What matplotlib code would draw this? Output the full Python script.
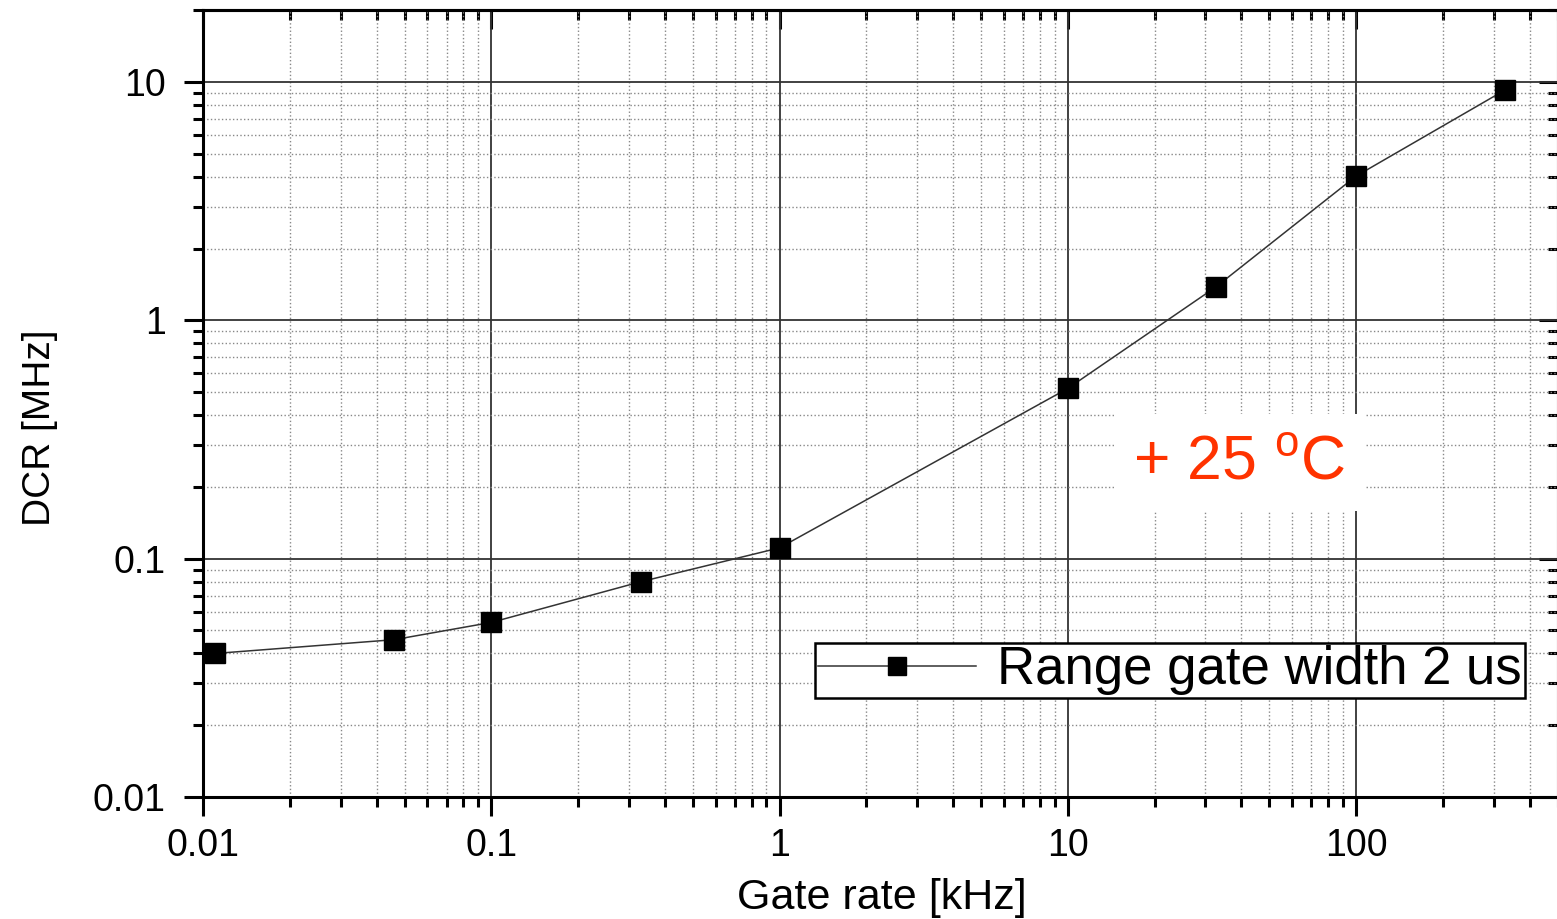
'''
DCR vs gate rate, log-log
'''

import numpy as np
import matplotlib
matplotlib.use('Agg')
import matplotlib.pyplot as plt
from matplotlib.ticker import LogLocator, FixedLocator, NullFormatter

plt.rcParams['font.family'] = ['Liberation Sans', 'DejaVu Sans']

# data
gate_rate = [0.011, 0.046, 0.1, 0.33, 1.0, 10.0, 32.6, 100.0, 328.0]  # kHz
dcr = [0.040, 0.0457, 0.054, 0.080, 0.111, 0.518, 1.38, 4.03, 9.25]  # MHz
series_label = 'Range gate width 2 us'
x_ticks = [0.01, 0.1, 1, 10, 100]
x_ticklabels = ['0.01', '0.1', '1', '10', '100']
y_ticks = [0.01, 0.1, 1, 10]
y_ticklabels = ['0.01', '0.1', '1', '10']

fig = plt.figure(figsize=(15.57, 9.19), dpi=100)
ax = fig.add_axes([0.1304, 0.1328, 0.8700, 0.856])

ax.plot(gate_rate, dcr, '-', color='#333333', lw=1.1, marker='s', ms=15,
        mfc='black', mec='black', label=series_label, zorder=5)

ax.set_xscale('log')
ax.set_yscale('log')
ax.set_xlim(0.01, 500)
ax.set_ylim(0.01, 20)

minor = np.arange(2, 10)
ax.xaxis.set_major_locator(FixedLocator(x_ticks))
ax.set_xticklabels(x_ticklabels)
ax.yaxis.set_major_locator(FixedLocator(y_ticks))
ax.set_yticklabels(y_ticklabels)
ax.xaxis.set_minor_locator(LogLocator(base=10, subs=minor, numticks=20))
ax.yaxis.set_minor_locator(LogLocator(base=10, subs=minor, numticks=20))
ax.xaxis.set_minor_formatter(NullFormatter())
ax.yaxis.set_minor_formatter(NullFormatter())

# grid: solid majors, dotted minors
ax.grid(which='major', color='#333333', linestyle='-', lw=1.3)
ax.grid(which='minor', color='#888888', linestyle=':', lw=1.0)
ax.set_axisbelow(True)

for s in ax.spines.values():
    s.set_linewidth(2.2)

ax.tick_params(which='both', bottom=True, left=True, top=False, right=False,
               direction='out', width=2.2, labelsize=27, colors='black')
ax.tick_params(which='major', length=14, pad=8)
ax.tick_params(axis='y', which='major', pad=13)
ax.tick_params(which='minor', length=7)

# mirrored ticks on top/right pointing in
ax_top = ax.secondary_xaxis('top')
ax_top.set_xticks(x_ticks)
ax_top.xaxis.set_minor_locator(LogLocator(base=10, subs=minor, numticks=20))
ax_top.xaxis.set_minor_formatter(NullFormatter())
ax_top.tick_params(which='both', direction='in', width=2.2, labeltop=False)
ax_top.tick_params(which='major', length=14)
ax_top.tick_params(which='minor', length=7)
ax_top.spines['top'].set_linewidth(2.2)

ax_right = ax.secondary_yaxis('right')
ax_right.set_yticks(y_ticks)
ax_right.yaxis.set_minor_locator(LogLocator(base=10, subs=minor, numticks=20))
ax_right.yaxis.set_minor_formatter(NullFormatter())
ax_right.tick_params(which='both', direction='in', width=2.2, labelright=False)
ax_right.tick_params(which='major', length=14)
ax_right.tick_params(which='minor', length=7)

ax.set_xlabel('Gate rate [kHz]', fontsize=31)
ax.xaxis.set_label_coords(0.501, -0.128)
ax.xaxis.label.set_va('center')
ax.set_ylabel('DCR [MHz]', fontsize=28)
ax.yaxis.set_label_coords(-0.1206, 0.469)
ax.yaxis.label.set_va('center')

leg = ax.legend(loc='lower right', bbox_to_anchor=(0.9756, 0.1258), fontsize=38,
                frameon=True, fancybox=False, edgecolor='black', framealpha=1,
                handlelength=3.0, borderpad=0.05, handletextpad=0.4,
                borderaxespad=0, markerscale=0.85)
leg.get_frame().set_linewidth(1.8)

ax.text(0.765, 0.425, '+ 25 $^{\\mathregular{o}}$C', transform=ax.transAxes,
        fontsize=45, color='#ff3300', ha='center', va='center',
        bbox=dict(facecolor='white', edgecolor='none', pad=14), zorder=6)

plt.savefig('out.png', dpi=100)
